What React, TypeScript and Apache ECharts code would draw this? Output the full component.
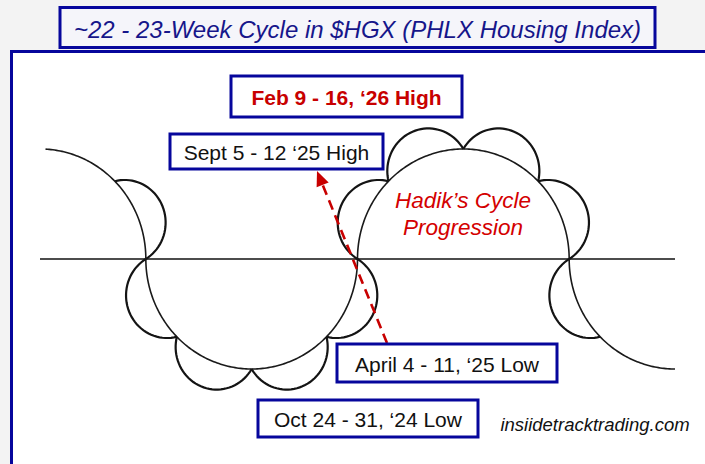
import React, { useEffect, useRef } from 'react';
import * as echarts from 'echarts';

// ---- diagram data (abstract cycle units: radius of a cycle = 1) ----
const cycleCenters = [0, 2, 4, 6];          // centre of each cycle along the time line
const cycleSides = [1, -1, 1, -1];          // 1 = cycle high (above line), -1 = cycle low (below)
const arcStart = [93, 0, 0, 0];             // visible part of each big cycle, degrees of progress
const arcEnd = [180, 180, 180, 90];
const lobeFirst = [3, 0, 0, 0];             // visible sub-cycles (4 per big cycle, 45° each)
const lobeLast = [3, 3, 3, 0];
const baselineExtent = [0, 6];

const titleText = '~22 - 23-Week Cycle in $HGX (PHLX Housing Index)';
const labelTexts = [
  'Feb 9 - 16, \u201826 High',
  'Sept 5 - 12 \u201825 High',
  'April 4 - 11, \u201825 Low',
  'Oct 24 - 31, \u201824 Low',
];
const progressText = ['Hadik\u2019s Cycle', 'Progression'];
const creditText = 'insiidetracktrading.com';

// ---- layout ----
const BLUE = '#06069c';
const RED = '#c80000';
const FONT = '"Liberation Sans", Arial, sans-serif';
const labelBoxes = [
  { x: 231, y: 76, w: 231, h: 41, font: `bold 21px ${FONT}`, color: RED },
  { x: 170, y: 134, w: 213, h: 35, font: `21px ${FONT}`, color: '#111' },
  { x: 337, y: 344, w: 220, h: 38, font: `21px ${FONT}`, color: '#111' },
  { x: 258, y: 400, w: 220, h: 37, font: `21px ${FONT}`, color: '#111' },
];
const arrowFrom = [387, 343];
const arrowTip = [317, 171];

export default function App() {
  const ref = useRef<HTMLDivElement>(null);

  useEffect(() => {
    const chart = echarts.init(ref.current!, null, { renderer: 'svg' });
    const D = Math.PI / 180;
    const lobeDepth = 0.86;

    const data = cycleCenters.map((c, i) => [
      c, cycleSides[i], arcStart[i], arcEnd[i], lobeFirst[i], lobeLast[i],
    ]);

    const renderItem = (params: any, api: any) => {
      const c = api.value(0);
      const side = api.value(1);
      const a0 = api.value(2);
      const a1 = api.value(3);
      const l0 = api.value(4);
      const l1 = api.value(5);
      const pt = (p: number) => [c - Math.cos(p * D), side * Math.sin(p * D)];
      const children: any[] = [];
      const big: number[][] = [];
      for (let p = a0; p <= a1 + 1e-9; p += 1) big.push(api.coord(pt(p)));
      children.push({
        type: 'polyline',
        shape: { points: big },
        style: { stroke: '#1a1a1a', lineWidth: 1.6, fill: null },
      });
      for (let k = l0; k <= l1; k++) {
        const P1 = pt(45 * k);
        const P2 = pt(45 * (k + 1));
        const M = [(P1[0] + P2[0]) / 2, (P1[1] + P2[1]) / 2];
        const dx = P2[0] - P1[0];
        const dy = P2[1] - P1[1];
        const chord = Math.hypot(dx, dy);
        const h = chord / 2;
        const t = [dx / chord, dy / chord];
        const mn = Math.hypot(M[0] - c, M[1]);
        const n = [(M[0] - c) / mn, M[1] / mn];
        const s = lobeDepth * h;
        const r = (h * h + s * s) / (2 * s);
        const O = [M[0] - n[0] * (r - s), M[1] - n[1] * (r - s)];
        const beta = Math.atan2(h, r - s);
        const pts: number[][] = [];
        const N = 40;
        for (let j = 0; j <= N; j++) {
          const phi = -beta + (2 * beta * j) / N;
          const q = [
            O[0] + r * (Math.cos(phi) * n[0] + Math.sin(phi) * t[0]),
            O[1] + r * (Math.cos(phi) * n[1] + Math.sin(phi) * t[1]),
          ];
          pts.push(api.coord(q));
        }
        children.push({
          type: 'polyline',
          shape: { points: pts },
          style: { stroke: '#141414', lineWidth: 2.2, fill: null },
        });
      }
      return { type: 'group', children };
    };

    // arrow geometry
    const ax = arrowTip[0] - arrowFrom[0];
    const ay = arrowTip[1] - arrowFrom[1];
    const al = Math.hypot(ax, ay);
    const u = [ax / al, ay / al];
    const perp = [-u[1], u[0]];
    const headLen = 15;
    const headHalf = 6.5;
    const base = [arrowTip[0] - u[0] * headLen, arrowTip[1] - u[1] * headLen];

    const graphic: any[] = [
      {
        type: 'rect', z: -100,
        shape: { x: 11.5, y: 51.5, width: 740, height: 460 },
        style: { fill: '#ffffff', stroke: BLUE, lineWidth: 3 },
      },
      {
        type: 'rect', z: -90,
        shape: { x: 60, y: 7.5, width: 595, height: 40 },
        style: { fill: '#f5f5fa', stroke: BLUE, lineWidth: 3 },
      },
      {
        type: 'text', z: 50,
        style: {
          text: titleText, x: 357.5, y: 29, font: `italic 24px ${FONT}`,
          fill: '#16168a', textAlign: 'center', textVerticalAlign: 'middle',
        },
      },
      {
        type: 'line', z: 40,
        shape: { x1: arrowFrom[0], y1: arrowFrom[1], x2: base[0] + u[0] * 2, y2: base[1] + u[1] * 2 },
        style: { stroke: RED, lineWidth: 2.6, lineDash: [10, 6] },
      },
      {
        type: 'polygon', z: 40,
        shape: {
          points: [
            arrowTip,
            [base[0] + perp[0] * headHalf, base[1] + perp[1] * headHalf],
            [base[0] - perp[0] * headHalf, base[1] - perp[1] * headHalf],
          ],
        },
        style: { fill: RED },
      },
      ...progressText.map((t, i) => ({
        type: 'text', z: 50,
        style: {
          text: t, x: 463, y: 200 + i * 27, font: `italic 22.5px ${FONT}`,
          fill: '#d40000', textAlign: 'center', textVerticalAlign: 'middle',
        },
      })),
      {
        type: 'text', z: 50,
        style: {
          text: creditText, x: 595, y: 424, font: `italic 18.5px ${FONT}`,
          fill: '#111', textAlign: 'center', textVerticalAlign: 'middle',
        },
      },
    ];
    labelTexts.forEach((t, i) => {
      const b = labelBoxes[i];
      graphic.push({
        type: 'rect', z: 60,
        shape: { x: b.x, y: b.y, width: b.w, height: b.h },
        style: { fill: '#ffffff', stroke: BLUE, lineWidth: 3 },
      });
      graphic.push({
        type: 'text', z: 61,
        style: {
          text: t, x: b.x + b.w / 2, y: b.y + b.h / 2 + 1, font: b.font,
          fill: b.color, textAlign: 'center', textVerticalAlign: 'middle',
        },
      });
    });

    chart.setOption({
      animation: false,
      backgroundColor: '#f3f3f3',
      grid: { left: 40, right: 30, top: 94, bottom: 40 },
      xAxis: { type: 'value', min: 0, max: 6, show: false },
      yAxis: { type: 'value', min: -1.5, max: 1.5, show: false },
      graphic,
      series: [
        {
          type: 'line',
          data: [[baselineExtent[0], 0], [baselineExtent[1], 0]],
          symbol: 'none',
          silent: true,
          lineStyle: { color: '#111', width: 1.6 },
          z: 3,
        },
        {
          type: 'custom',
          data,
          renderItem,
          clip: false,
          silent: true,
          z: 4,
        },
      ],
    });
    return () => chart.dispose();
  }, []);

  return (
    <div
      ref={ref}
      style={{ position: 'fixed', left: 0, top: 0, width: 705, height: 464 }}
    />
  );
}
